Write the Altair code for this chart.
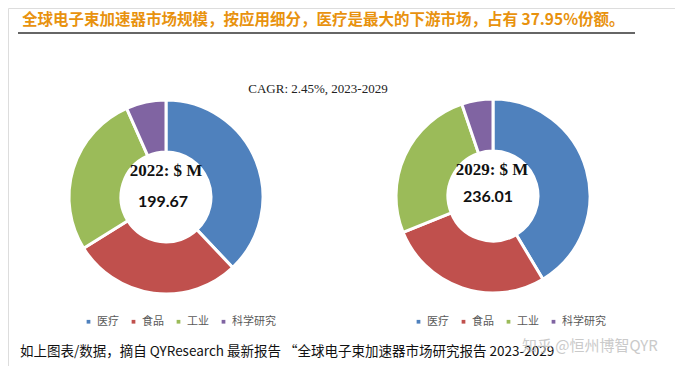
import altair as alt
import pandas as pd

categories = ["医疗", "食品", "工业", "科学研究"]
share_2022 = [37.95, 28.2, 27.2, 6.65]
share_2029 = [41.4, 27.5, 25.9, 5.2]
colors = ["#4F81BD", "#C0504D", "#9BBB59", "#8064A2"]

title_text = "全球电子束加速器市场规模，按应用细分，医疗是最大的下游市场，占有 37.95%份额。"
cagr_text = "CAGR: 2.45%, 2023-2029"
year_labels = ["2022: $ M", "2029: $ M"]
totals = ["199.67", "236.01"]
footer_text = "如上图表/数据，摘自 QYResearch 最新报告 \u201c全球电子束加速器市场研究报告 2023-2029"
watermark_text = "知乎 @恒州博智QYR"

rows = []
for i, c in enumerate(categories):
    rows.append({"year": "2022", "category": c, "share": share_2022[i], "idx": i})
    rows.append({"year": "2029", "category": c, "share": share_2029[i], "idx": i})
df = pd.DataFrame(rows)

one = pd.DataFrame({"k": [0]})

CJK = "Noto Sans CJK SC"


def donut(year, cx, cy, lx):
    return (
        alt.Chart(df)
        .transform_filter(alt.datum.year == year)
        .mark_arc(outerRadius=97, innerRadius=45, stroke="white", strokeWidth=3)
        .encode(
            theta=alt.Theta("share:Q", stack=True),
            order=alt.Order("idx:Q", sort="ascending"),
            color=alt.Color(
                "category:N",
                sort=categories,
                scale=alt.Scale(domain=categories, range=colors),
                legend=alt.Legend(
                    orient="none",
                    legendX=lx,
                    legendY=308,
                    direction="horizontal",
                    title=None,
                    symbolType="square",
                    symbolSize=14,
                    symbolStrokeWidth=0,
                    labelFont=CJK,
                    labelFontSize=11,
                    labelColor="#595959",
                    labelOffset=3,
                    columnPadding=9,
                ),
            ),
            x=alt.value(cx),
            y=alt.value(cy),
        )
    )


arc1 = donut("2022", 158, 189, 75)
arc2 = donut("2029", 485, 188, 405)

title = alt.Chart(one).mark_text(
    text=title_text, font=CJK, fontSize=15.5, fontWeight="bold", color="#E8920E",
    align="left", baseline="middle"
).encode(x=alt.value(14), y=alt.value(12))

underline = alt.Chart(one).mark_rule(color="#333333", strokeWidth=1.5).encode(
    x=alt.value(10), x2=alt.value(627), y=alt.value(25)
)

cagr = alt.Chart(one).mark_text(
    text=cagr_text, font="Liberation Serif", fontSize=13, color="#222222",
    align="center", baseline="middle"
).encode(x=alt.value(310), y=alt.value(81))

lab1 = alt.Chart(one).mark_text(
    text=year_labels[0], font="Liberation Serif", fontSize=17, fontWeight="bold",
    color="#111111", align="center", baseline="middle"
).encode(x=alt.value(158), y=alt.value(163))
lab2 = alt.Chart(one).mark_text(
    text=year_labels[1], font="Liberation Serif", fontSize=17, fontWeight="bold",
    color="#111111", align="center", baseline="middle"
).encode(x=alt.value(484), y=alt.value(162))

tot1 = alt.Chart(one).mark_text(
    text=totals[0], font="Lato", fontSize=16, fontWeight="bold",
    color="#111111", align="center", baseline="middle"
).encode(x=alt.value(155), y=alt.value(194))
tot2 = alt.Chart(one).mark_text(
    text=totals[1], font="Lato", fontSize=16, fontWeight="bold",
    color="#111111", align="center", baseline="middle"
).encode(x=alt.value(480), y=alt.value(189))

footer = alt.Chart(one).mark_text(
    text=footer_text, font=CJK, fontSize=13.5, color="#111111",
    align="left", baseline="middle"
).encode(x=alt.value(12), y=alt.value(344))

watermark = alt.Chart(one).mark_text(
    text=watermark_text, font=CJK, fontSize=15, color="#bdbdbd", opacity=0.8,
    align="left", baseline="middle"
).encode(x=alt.value(514), y=alt.value(338))

chart = (
    alt.layer(arc1, arc2, title, underline, cagr, lab1, lab2, tot1, tot2, footer, watermark)
    .resolve_scale(theta="independent", color="independent")
    .properties(width=667, height=358, padding=0, autosize=alt.AutoSizeParams(type="none"))
    .configure_view(stroke=None)
    .configure(background="white")
)

chart.save("out.html", embed_options={"renderer": "svg", "actions": False})
